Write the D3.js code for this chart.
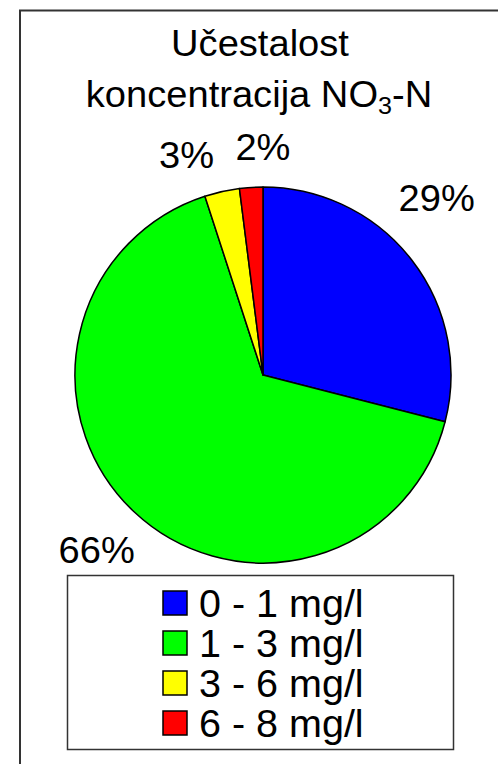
<!DOCTYPE html>
<html>
<head>
<meta charset="utf-8">
<script src="https://cdn.jsdelivr.net/npm/d3@7"></script>
<style>
  html, body { margin: 0; padding: 0; background: #fff; }
  svg text { font-family: "Liberation Sans", Arial, sans-serif; fill: #000; }
</style>
</head>
<body>
<svg id="chart" width="498" height="764"></svg>
<script>
"use strict";

// data
var categories = ['0 - 1 mg/l', '1 - 3 mg/l', '3 - 6 mg/l', '6 - 8 mg/l'];
var shares = [29, 66, 3, 2];
var colours = ['#0000ff', '#00ff00', '#ffff00', '#ff0000'];
var titleLines = ['Učestalost', 'koncentracija NO'];

// small nudges so labels sit like the original (x, y in px)
var labelNudge = [[-16, -30], [-2, 0], [-24, 14], [15, 12]];

var svg = d3.select('#chart'),
    cx = 263, cy = 375, radius = 188,
    fontSize = 37, legendFont = 39.5, stretch = 1.03;

// outer frame, runs off the right and bottom edge
svg.append('rect')
  .attr('x', 20).attr('y', 10.5)
  .attr('width', 520).attr('height', 800)
  .attr('fill', 'none').attr('stroke', '#333').attr('stroke-width', 2);

// title
var t1 = svg.append('g').attr('transform', 'translate(260,56) scale(' + stretch + ',1)');
t1.append('text').attr('text-anchor', 'middle').style('font-size', fontSize + 'px').text(titleLines[0]);

var t2 = svg.append('g').attr('transform', 'translate(259,107) scale(' + stretch + ',1)');
var tt = t2.append('text').attr('text-anchor', 'middle').style('font-size', fontSize + 'px');
tt.append('tspan').text(titleLines[1]);
tt.append('tspan').attr('dy', 7).style('font-size', (fontSize * 0.66) + 'px').text('3');
tt.append('tspan').attr('dy', -7).text('-N');

// pie, clockwise from 12 o'clock
var pie = d3.pie().sort(null).value(d => d),
    arcs = pie(shares),
    arc = d3.arc().innerRadius(0).outerRadius(radius),
    labelArc = d3.arc().innerRadius(240).outerRadius(240);

var g = svg.append('g').attr('transform', 'translate(' + cx + ',' + cy + ')');

g.selectAll('path').data(arcs)
  .enter().append('path')
  .attr('d', arc)
  .attr('fill', (d, i) => colours[i])
  .attr('stroke', '#000')
  .attr('stroke-width', 1.5)
  .attr('stroke-linejoin', 'round');

g.selectAll('g.lbl').data(arcs)
  .enter().append('g')
  .attr('class', 'lbl')
  .attr('transform', (d, i) => {
    var c = labelArc.centroid(d);
    return 'translate(' + (c[0] + labelNudge[i][0]) + ',' + (c[1] + labelNudge[i][1]) + ') scale(' + stretch + ',1)';
  })
  .append('text')
  .attr('text-anchor', 'middle')
  .attr('dy', '0.35em')
  .style('font-size', fontSize + 'px')
  .text(d => d.data + '%');

// legend
var lx = 67, ly = 575, lw = 386, lh = 174, rowH = 40;
svg.append('rect')
  .attr('x', lx + 0.5).attr('y', ly + 0.5)
  .attr('width', lw).attr('height', lh)
  .attr('fill', '#fff').attr('stroke', '#333').attr('stroke-width', 1.5);

var row = svg.selectAll('g.leg').data(categories)
  .enter().append('g')
  .attr('class', 'leg')
  .attr('transform', (d, i) => 'translate(163,' + (ly + 16 + i * rowH) + ')');

row.append('rect')
  .attr('width', 24).attr('height', 24)
  .attr('fill', (d, i) => colours[i])
  .attr('stroke', '#000').attr('stroke-width', 1.5);

row.append('text')
  .attr('x', 36).attr('y', 12)
  .attr('dy', '0.35em')
  .style('font-size', legendFont + 'px')
  .text(d => d);
</script>
</body>
</html>
